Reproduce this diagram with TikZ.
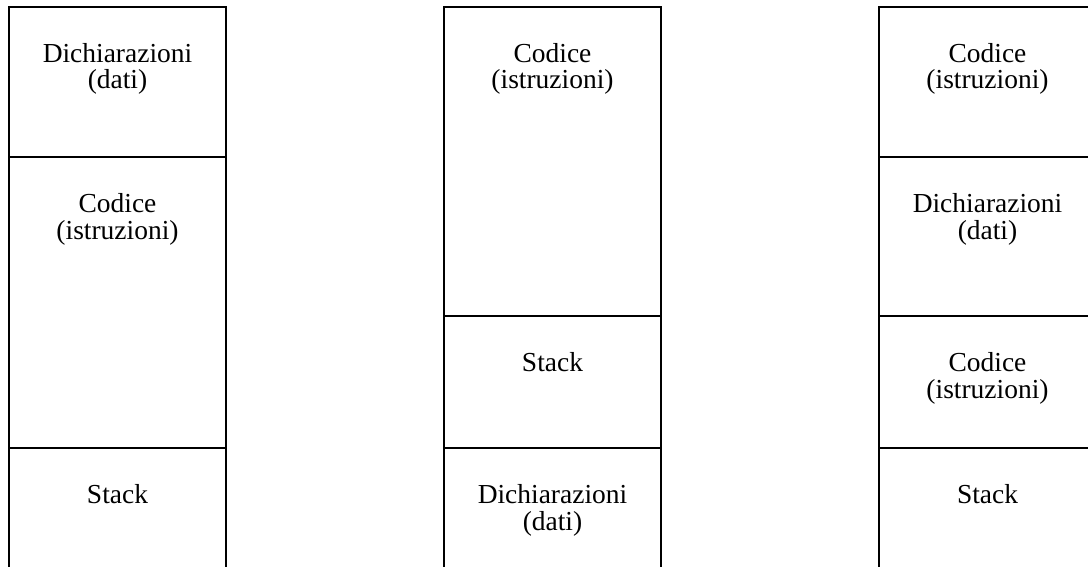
\documentclass[tikz,border=0pt]{standalone}
\usepackage{fontspec}
\setmainfont{Liberation Serif}
\usetikzlibrary{positioning}

\begin{document}
\begin{tikzpicture}[x=0.75pt,y=-0.75pt,node distance=0pt,
    seg/.style={draw,line width=0.8pt,outer sep=0pt,minimum width=162.75pt},
    txt/.style={anchor=base,yshift=-41.5pt,text width=150pt,align=center,inner sep=0pt,
      font=\fontsize{20.6}{20}\selectfont}]
  \clip (0,0) rectangle (1088,567);

  % data first, then code and stack
  \node[seg,anchor=north,minimum height=112.5pt,
    label={[txt]north:Dichiarazioni\\(dati)}] (a1) at (117.5,7) {};
  \node[seg,minimum height=218.25pt,
    label={[txt]north:Codice\\(istruzioni)}] (a2) [below=of a1] {};
  \node[seg,minimum height=112.5pt,
    label={[txt]north:Stack}] (a3) [below=of a2] {};

  % code, stack, data at the bottom
  \node[seg,anchor=north,minimum height=231.75pt,
    label={[txt]north:Codice\\(istruzioni)}] (b1) at (552.5,7) {};
  \node[seg,minimum height=99pt,
    label={[txt]north:Stack}] (b2) [below=of b1] {};
  \node[seg,minimum height=112.5pt,
    label={[txt]north:Dichiarazioni\\(dati)}] (b3) [below=of b2] {};

  % code split round the data
  \node[seg,anchor=north,minimum height=112.5pt,
    label={[txt]north:Codice\\(istruzioni)}] (c1) at (987.5,7) {};
  \node[seg,minimum height=119.25pt,
    label={[txt]north:Dichiarazioni\\(dati)}] (c2) [below=of c1] {};
  \node[seg,minimum height=99pt,
    label={[txt]north:Codice\\(istruzioni)}] (c3) [below=of c2] {};
  \node[seg,minimum height=112.5pt,
    label={[txt]north:Stack}] (c4) [below=of c3] {};
\end{tikzpicture}
\end{document}
